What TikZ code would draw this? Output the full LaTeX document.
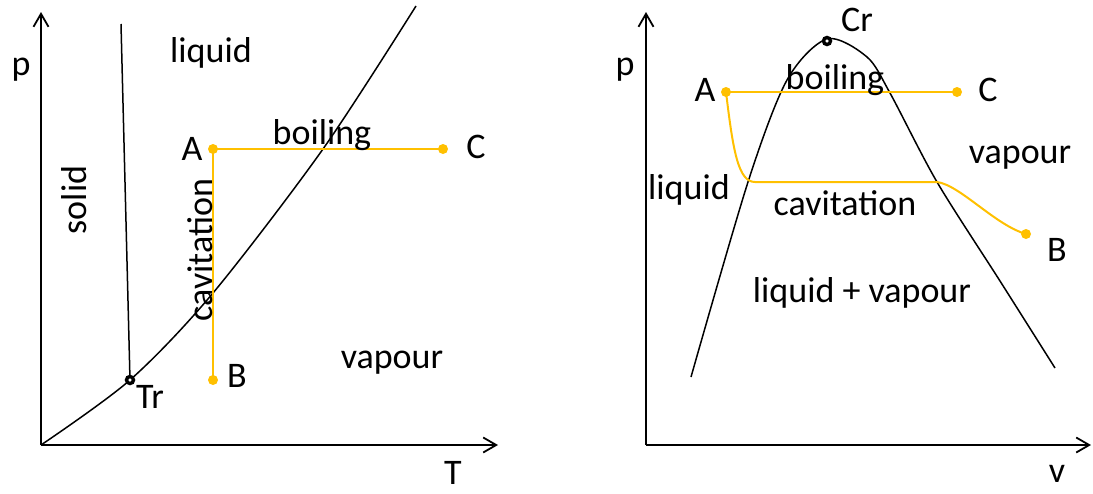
\documentclass[tikz,border=0pt]{standalone}
\usepackage{fontspec}
\setmainfont{Carlito}
\usetikzlibrary{arrows.meta}
\definecolor{gold}{RGB}{255,192,0}
\begin{document}
\begin{tikzpicture}[x=1pt,y=-1pt,
  axis/.style={line width=1.8pt,-{Straight Barb[length=13pt,width=15pt]}},
  curve/.style={line width=1.5pt},
  ylw/.style={gold,line width=2pt},
  dot/.style={circle,fill=gold,inner sep=0pt,minimum size=10pt},
  crit/.style={circle,draw=black,fill=white,line width=3.4pt,inner sep=0pt,minimum size=7pt},
  lbl/.style={font=\fontsize{36}{42}\selectfont,inner sep=0pt}]
\useasboundingbox (0,0) rectangle (1093,493);
% ---------- left: p-T diagram ----------
\coordinate (O1) at (41,445);
\coordinate (Y1) at (41,12);
\coordinate (X1) at (498,445);
\coordinate (M1) at (121,24);
\coordinate (TrP) at (130,380);
\coordinate (AP1) at (213,149);
\coordinate (BP1) at (213,380);
\coordinate (CP1) at (443,149);
\draw[axis] (O1) -- (Y1);
\draw[axis] (O1) -- (X1);
\draw[curve] (M1) -- (TrP);
\draw[curve] plot[smooth] coordinates {(41,445) (130,380) (213,293) (323,149) (416,6)};
\draw[ylw] (AP1) -- (CP1);
\draw[ylw] (AP1) -- (BP1);
\node[crit] (Tr) at (TrP) {};
\node[dot] (A1) at (AP1) {};
\node[dot] (B1) at (BP1) {};
\node[dot] (C1) at (CP1) {};
\node[lbl] (p1) at (21,70) {p};
\node[lbl] (T1) at (453,473) {T};
\node[lbl] (liq1) at (211,53) {liquid};
\node[lbl,rotate=90] (sol1) at (74,200) {solid};
\node[lbl,rotate=90] (cav1) at (200,250) {cavitation};
\node[lbl] (boil1) at (322,135) {boiling};
\node[lbl] (Al1) at (192,149) {A};
\node[lbl] (Cl1) at (476,147) {C};
\node[lbl] (Bl1) at (237,376) {B};
\node[lbl] (Trl) at (150,397) {Tr};
\node[lbl] (vap1) at (392,363) {vapour};
% ---------- right: p-v diagram ----------
\coordinate (O2) at (646,445);
\coordinate (Y2) at (646,12);
\coordinate (X2) at (1091,445);
\coordinate (CrP) at (827,41);
\coordinate (AP2) at (726,92);
\coordinate (CP2) at (957,92);
\coordinate (BP2) at (1026,234);
\coordinate (L2) at (755,182);
\coordinate (R2) at (937,182);
\draw[axis] (O2) -- (Y2);
\draw[axis] (O2) -- (X2);
\draw[curve] plot[smooth] coordinates {(691,377) (748,182) (787,80) (827,39) (867,57) (890,93) (937,182) (1000,281) (1055,368)};
\draw[ylw] (AP2) -- (CP2);
\draw[ylw] (AP2) .. controls (733,150) and (738,182) .. (L2) -- (R2)
  .. controls (960,185) and (995,225) .. (BP2);
\node[crit] (Cr) at (CrP) {};
\node[dot] (A2) at (AP2) {};
\node[dot] (C2) at (CP2) {};
\node[dot] (B2) at (BP2) {};
\node[lbl] (p2) at (625,70) {p};
\node[lbl] (v2) at (1057,474) {v};
\node[lbl] (Crl) at (857,20) {Cr};
\node[lbl] (Al2) at (705,90) {A};
\node[lbl] (Cl2) at (988,90) {C};
\node[lbl] (Bl2) at (1057,250) {B};
\node[lbl] (boil2) at (835,80) {boiling};
\node[lbl] (vap2) at (1020,158) {vapour};
\node[lbl] (liq2) at (689,190) {liquid};
\node[lbl] (cav2) at (845,203) {cavitation};
\node[lbl] (lv2) at (862,293) {liquid + vapour};
\end{tikzpicture}
\end{document}
